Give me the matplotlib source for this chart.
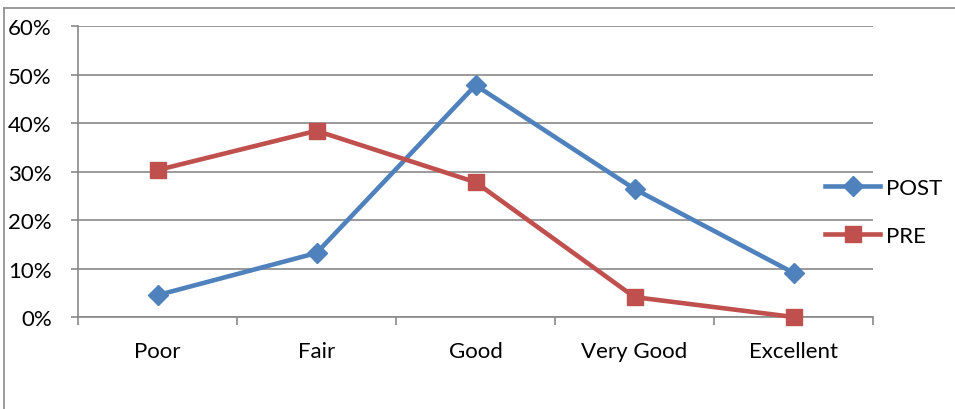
import matplotlib.pyplot as plt
from matplotlib.lines import Line2D
from matplotlib.ticker import PercentFormatter

categories = ["Poor", "Fair", "Good", "Very Good", "Excellent"]
post_values = [4.5, 13.2, 47.8, 26.4, 9.1]
pre_values = [30.3, 38.4, 27.8, 4.1, 0.0]
y_ticks = [0, 10, 20, 30, 40, 50, 60]

BLUE = "#4F81BD"
RED = "#C0504D"
GRID = "#898989"


def main() -> None:
    plt.rcParams["font.family"] = ["Lato", "DejaVu Sans"]

    fig = plt.figure(figsize=(9.55, 4.1), dpi=100)
    ax = fig.add_axes([0.0817, 0.2244, 0.8325, 0.7096])

    x = range(len(categories))
    ax.plot(x, post_values, color=BLUE, lw=3.3, marker="D", ms=10,
            mfc=BLUE, mec=BLUE, label="POST", zorder=3, clip_on=False)
    ax.plot(x, pre_values, color=RED, lw=3.3, marker="s", ms=12,
            mfc=RED, mec=RED, label="PRE", zorder=3, clip_on=False)

    ax.set_xlim(-0.5, len(categories) - 0.5)
    ax.set_ylim(0, 60)
    ax.set_yticks(y_ticks)
    ax.yaxis.set_major_formatter(PercentFormatter(decimals=0))
    ax.grid(axis="y", color=GRID, lw=1.2)
    ax.set_axisbelow(True)

    ax.set_xticks(list(x))
    ax.set_xticklabels(categories)
    ax.set_xticks([i - 0.5 for i in range(len(categories) + 1)], minor=True)
    ax.tick_params(axis="x", which="major", length=0, pad=17, labelsize=16)
    ax.tick_params(axis="x", which="minor", length=6, width=1.2, color=GRID)
    ax.tick_params(axis="y", length=5, width=1.2, color=GRID, pad=14,
                   labelsize=16)

    for side in ["top", "right"]:
        ax.spines[side].set_visible(False)
    for side in ["left", "bottom"]:
        ax.spines[side].set_color(GRID)
        ax.spines[side].set_linewidth(1.2)

    leg = ax.legend(loc="center left", bbox_to_anchor=(0.94, 0.362),
                    frameon=False, fontsize=16, handlelength=2.45,
                    handletextpad=0.3, labelspacing=1.25, borderpad=0,
                    borderaxespad=0)
    leg.set_zorder(5)

    # outer frame lines along the left and top edges
    fig.add_artist(Line2D([0.0045, 0.0045], [0, 0.978], color=GRID, lw=1.2))
    fig.add_artist(Line2D([0.0045, 1], [0.978, 0.978], color=GRID, lw=1.2))

    fig.savefig("out.png", dpi=100)
    plt.close(fig)


if __name__ == "__main__":
    main()
